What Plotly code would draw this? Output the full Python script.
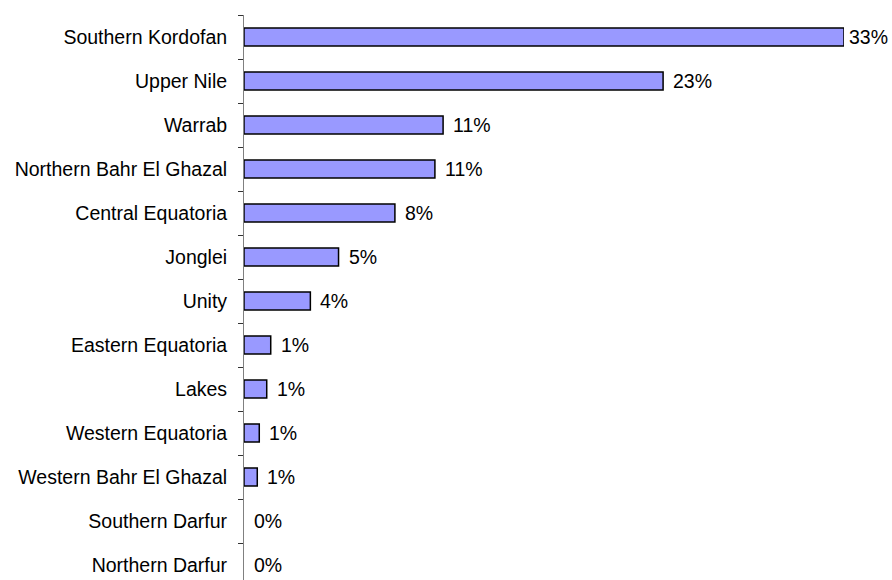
import plotly.graph_objects as go

regions = ["Southern Kordofan", "Upper Nile", "Warrab", "Northern Bahr El Ghazal",
           "Central Equatoria", "Jonglei", "Unity", "Eastern Equatoria", "Lakes",
           "Western Equatoria", "Western Bahr El Ghazal", "Southern Darfur", "Northern Darfur"]
shares = [33.0, 23.05, 10.95, 10.5, 8.3, 5.2, 3.65, 1.47, 1.25, 0.84, 0.73, 0.0, 0.0]
labels = ["33%", "23%", "11%", "11%", "8%", "5%", "4%", "1%", "1%", "1%", "1%", "0%", "0%"]

font = "Liberation Sans, Arial, sans-serif"
fsize = 19.5

fig = go.Figure()
fig.add_trace(go.Bar(
    x=shares, y=regions, orientation="h",
    marker=dict(color="#9999FF",
                line=dict(color="black", width=[1.5 if v > 0 else 0 for v in shares])),
    width=0.41, hoverinfo="x+y",
))

for r, v, t in zip(regions, shares, labels):
    shift = 3 if v > 30 else 8
    fig.add_annotation(x=v, y=r, text=t, showarrow=False, xanchor="left",
                       xshift=shift, font=dict(family=font, size=fsize, color="black"))

fig.update_layout(
    width=892, height=580,
    margin=dict(l=244, r=48, t=15, b=0, pad=0),
    paper_bgcolor="white", plot_bgcolor="white",
    showlegend=False,
    font=dict(family=font, size=fsize, color="black"),
    xaxis=dict(range=[0, 33], visible=False, fixedrange=True),
    yaxis=dict(
        type="category", categoryorder="array", categoryarray=regions,
        range=[12.341, -0.5], tickson="boundaries",
        ticks="outside", ticklen=5, tickcolor="#333333", tickwidth=1,
        showline=True, linecolor="#808080", linewidth=1,
        showgrid=False, zeroline=False, ticklabelstandoff=12,
        tickfont=dict(family=font, size=fsize, color="black"),
    ),
)

fig.write_html(
    "out.html",
    config={"displayModeBar": False},
    post_script="document.body.style.margin='0';document.body.style.overflow='hidden';"
                "document.documentElement.style.overflow='hidden';",
)
